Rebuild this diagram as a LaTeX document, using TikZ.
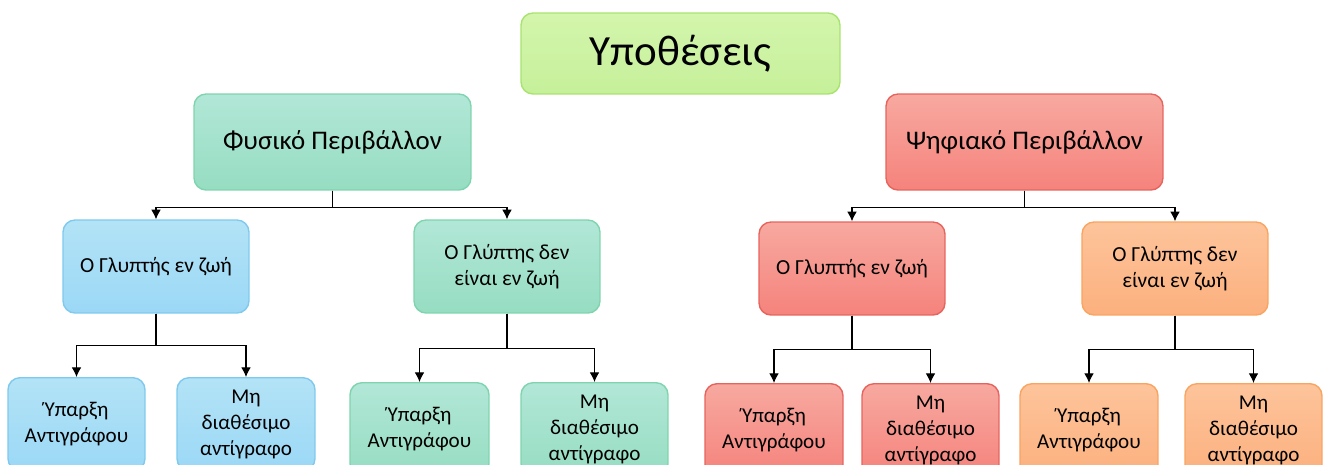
\documentclass[tikz,border=0pt]{standalone}
\usepackage{fontspec}
\setmainfont{Carlito}
\usetikzlibrary{arrows,arrows.meta,positioning,calc}

\definecolor{grnTop}{HTML}{D3F5AC}
\definecolor{grnBot}{HTML}{C6F09A}
\definecolor{grnLine}{HTML}{A8E370}
\definecolor{tealTop}{HTML}{B2E7D7}
\definecolor{tealBot}{HTML}{96DDC2}
\definecolor{tealLine}{HTML}{7FD4AF}
\definecolor{blueTop}{HTML}{B3E3F6}
\definecolor{blueBot}{HTML}{9BD8F6}
\definecolor{blueLine}{HTML}{7FC9EE}
\definecolor{redTop}{HTML}{F7A9A0}
\definecolor{redBot}{HTML}{F5837C}
\definecolor{redLine}{HTML}{E6645E}
\definecolor{orTop}{HTML}{FDC49B}
\definecolor{orBot}{HTML}{FCB07E}
\definecolor{orLine}{HTML}{F9A461}

\tikzset{
  box/.style={draw,rounded corners=0.24cm,align=center,inner sep=0pt,line width=0.8pt},
  hypbox/.style={box,top color=grnTop,bottom color=grnBot,draw=grnLine},
  tealbox/.style={box,top color=tealTop,bottom color=tealBot,draw=tealLine},
  bluebox/.style={box,top color=blueTop,bottom color=blueBot,draw=blueLine},
  redbox/.style={box,top color=redTop,bottom color=redBot,draw=redLine},
  orbox/.style={box,top color=orTop,bottom color=orBot,draw=orLine},
  lvlone/.style={minimum width=5.54cm,minimum height=1.92cm,font=\fontsize{15.3}{18}\selectfont},
  lvltwo/.style={minimum width=3.72cm,minimum height=1.86cm,font=\fontsize{12.2}{14.8}\selectfont},
  lvlthree/.style={anchor=north,minimum height=1.86cm,font=\fontsize{12}{14.8}\selectfont},
  link/.style={-{Latex[length=5.5pt,width=5.5pt]},line width=0.6pt}
}

\begin{document}
\begin{tikzpicture}[x=0.02cm,y=-0.02cm]
  \useasboundingbox (0,0) rectangle (1323,464);
  \clip (0,0) rectangle (1323,464);
  % top node
  \node[hypbox,minimum width=6.38cm,minimum height=1.62cm,font=\fontsize{24.5}{28}\selectfont] (hyp) at (680.5,53.5) {Υποθέσεις};
  % the two environments
  \node[tealbox,lvlone] (fys) at (332.5,142) {Φυσικό Περιβάλλον};
  \node[redbox,lvlone] (psi) at (1024.5,142) {Ψηφιακό Περιβάλλον};
  % second level
  \node[bluebox,lvltwo] (fysA) at (156,266.5) {Ο Γλυπτής εν ζωή};
  \node[tealbox,lvltwo] (fysB) at (507,266.5) {Ο Γλύπτης δεν\\είναι εν ζωή};
  \node[redbox,lvltwo] (psiA) at (852,268.5) {Ο Γλυπτής εν ζωή};
  \node[orbox,lvltwo] (psiB) at (1175,268.5) {Ο Γλύπτης δεν\\είναι εν ζωή};
  % third level
  \node[bluebox,lvlthree,minimum width=2.74cm] (fysAa) at (76.5,377) {Ύπαρξη\\Αντιγράφου};
  \node[bluebox,lvlthree,minimum width=2.76cm] (fysAb) at (246,377) {Μη\\διαθέσιμο\\αντίγραφο};
  \node[tealbox,lvlthree,minimum width=2.78cm] (fysBa) at (419.5,382) {Ύπαρξη\\Αντιγράφου};
  \node[tealbox,lvlthree,minimum width=2.94cm] (fysBb) at (594.5,382) {Μη\\διαθέσιμο\\αντίγραφο};
  \node[redbox,lvlthree,minimum width=2.76cm] (psiAa) at (774,383) {Ύπαρξη\\Αντιγράφου};
  \node[redbox,lvlthree,minimum width=2.74cm] (psiAb) at (930.5,383) {Μη\\διαθέσιμο\\αντίγραφο};
  \node[orbox,lvlthree,minimum width=2.76cm] (psiBa) at (1089,383) {Ύπαρξη\\Αντιγράφου};
  \node[orbox,lvlthree,minimum width=2.74cm] (psiBb) at (1253.5,383) {Μη\\διαθέσιμο\\αντίγραφο};
  % connectors
  \draw[link] (fys.south) -- ++(0,17) -| (fysA.north);
  \draw[link] (fys.south) -- ++(0,17) -| (fysB.north);
  \draw[link] (psi.south) -- ++(0,17) -| (psiA.north);
  \draw[link] (psi.south) -- ++(0,17) -| (psiB.north);
  \draw[link] (fysA.south) -- ++(0,32) -| (fysAa.north);
  \draw[link] (fysA.south) -- ++(0,32) -| (fysAb.north);
  \draw[link] (fysB.south) -- ++(0,35) -| (fysBa.north);
  \draw[link] (fysB.south) -- ++(0,35) -| (fysBb.north);
  \draw[link] (psiA.south) -- ++(0,34) -| (psiAa.north);
  \draw[link] (psiA.south) -- ++(0,34) -| (psiAb.north);
  \draw[link] (psiB.south) -- ++(0,34) -| (psiBa.north);
  \draw[link] (psiB.south) -- ++(0,34) -| (psiBb.north);
\end{tikzpicture}
\end{document}
